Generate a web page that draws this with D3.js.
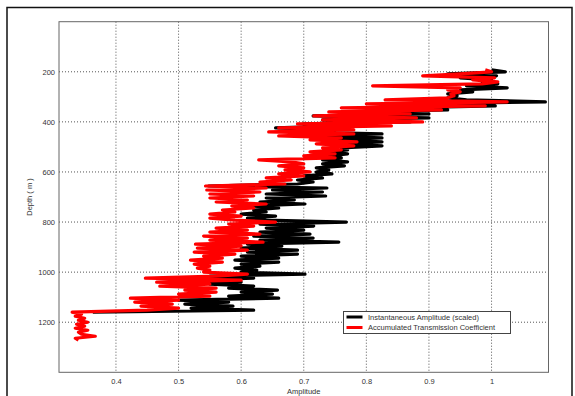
<!DOCTYPE html>
<html>
<head>
<meta charset="utf-8">
<script src="https://cdn.jsdelivr.net/npm/d3@7"></script>
<style>
  body { margin: 0; background: #fff; }
  text { font-family: "Liberation Sans", Arial, sans-serif; fill: #333; }
</style>
</head>
<body>
<script>
// depth sampling of the log (m)
const depthStart = 192;
const depthStep = 8;

// Accumulated Transmission Coefficient (red)
const transCoef = [
  0.99, 1.0, 0.95, 0.89, 1.005, 0.97, 1.01, 0.985, 0.81, 0.95,
  0.93, 0.95, 0.935, 0.94, 0.93, 0.83, 1.025, 0.80, 0.99, 0.76,
  0.92, 0.74, 0.87, 0.716, 0.88, 0.73, 0.89, 0.69, 0.84, 0.66,
  0.78, 0.644, 0.78, 0.66, 0.76, 0.71, 0.785, 0.72, 0.78, 0.73,
  0.76, 0.71, 0.75, 0.70, 0.75, 0.628, 0.68, 0.70, 0.66, 0.70,
  0.67, 0.71, 0.66, 0.70, 0.64, 0.68, 0.63, 0.67, 0.543, 0.64,
  0.545, 0.63, 0.55, 0.62, 0.55, 0.61, 0.56, 0.64, 0.585, 0.62,
  0.57, 0.59, 0.55, 0.60, 0.55, 0.59, 0.655, 0.58, 0.62, 0.56,
  0.61, 0.55, 0.63, 0.54, 0.61, 0.55, 0.635, 0.527, 0.60, 0.53,
  0.61, 0.525, 0.59, 0.54, 0.57, 0.519, 0.57, 0.525, 0.55, 0.53,
  0.55, 0.54, 0.61, 0.56, 0.447, 0.60, 0.465, 0.55, 0.47, 0.56,
  0.51, 0.56, 0.50, 0.55, 0.423, 0.50, 0.43, 0.49, 0.44, 0.50,
  0.45, 0.33, 0.345, 0.335, 0.35, 0.34, 0.355, 0.337, 0.35, 0.335,
  0.355, 0.34, 0.345, 0.367, 0.335, 0.34
];

// Instantaneous Amplitude (scaled) (black)
const instAmp = [
  1.0, 1.022, 0.93, 1.008, 0.95, 1.0, 0.985, 1.01, 0.96, 1.025,
  0.95, 0.97, 0.93, 0.945, 0.93, 0.96, 1.086, 0.88, 1.006, 0.85,
  0.93, 0.78, 0.90, 0.715, 0.90, 0.73, 0.87, 0.70, 0.76, 0.655,
  0.75, 0.68, 0.825, 0.72, 0.825, 0.75, 0.825, 0.76, 0.825, 0.76,
  0.77, 0.74, 0.77, 0.74, 0.76, 0.73, 0.77, 0.73, 0.765, 0.72,
  0.74, 0.72, 0.745, 0.70, 0.73, 0.69, 0.715, 0.69, 0.548, 0.737,
  0.65, 0.73, 0.64, 0.735, 0.64, 0.685, 0.63, 0.702, 0.62, 0.66,
  0.62, 0.64, 0.60, 0.655, 0.61, 0.64, 0.768, 0.63, 0.716, 0.64,
  0.70, 0.63, 0.71, 0.62, 0.715, 0.63, 0.756, 0.61, 0.665, 0.60,
  0.69, 0.61, 0.69, 0.60, 0.66, 0.59, 0.66, 0.60, 0.63, 0.59,
  0.625, 0.60, 0.702, 0.55, 0.62, 0.52, 0.60, 0.55, 0.62, 0.58,
  0.658, 0.60, 0.65, 0.58, 0.66, 0.50, 0.58, 0.51, 0.587, 0.52,
  0.62, 0.363
];

const xTicks = [0.4, 0.5, 0.6, 0.7, 0.8, 0.9, 1];
const yTicks = [200, 400, 600, 800, 1000, 1200];
const seriesNames = ["Instantaneous Amplitude (scaled)", "Accumulated Transmission Coefficient"];
const seriesColors = ["#000", "#f00"];

const width = 575, height = 396;
const plotL = 59, plotR = 548.5, plotT = 21.7, plotB = 372.3;

const x = d3.scaleLinear().domain([0.309, 1.091]).range([plotL, plotR]);
const y = d3.scaleLinear().domain([0, 1400]).range([plotT, plotB]);

const svg = d3.select("body").append("svg")
  .attr("width", width)
  .attr("height", height);

// outer figure frame
svg.append("rect")
  .attr("x", 7).attr("y", 7.5)
  .attr("width", 565).attr("height", 400)
  .attr("fill", "none")
  .attr("stroke", "#111")
  .attr("stroke-width", 1.5);

// grid
svg.append("g")
  .selectAll("line")
  .data(xTicks)
  .join("line")
  .attr("x1", d => x(d)).attr("x2", d => x(d))
  .attr("y1", plotT).attr("y2", plotB)
  .attr("stroke", "#555")
  .attr("stroke-dasharray", "1,2");

svg.append("g")
  .selectAll("line")
  .data(yTicks)
  .join("line")
  .attr("x1", plotL).attr("x2", plotR)
  .attr("y1", d => y(d)).attr("y2", d => y(d))
  .attr("stroke", "#555")
  .attr("stroke-dasharray", "1,2");

// axes labels
const xAxis = svg.append("g")
  .attr("transform", `translate(0,${plotB})`)
  .call(d3.axisBottom(x).tickValues(xTicks).tickSize(0).tickPadding(6).tickFormat(d => String(d)));
xAxis.select(".domain").remove();
xAxis.selectAll("text").attr("font-size", 7.5).attr("fill", "#333");

const yAxis = svg.append("g")
  .attr("transform", `translate(${plotL},0)`)
  .call(d3.axisLeft(y).tickValues(yTicks).tickSize(0).tickPadding(4).tickFormat(d3.format("d")));
yAxis.select(".domain").remove();
yAxis.selectAll("text").attr("font-size", 7.5).attr("fill", "#333");

svg.append("text")
  .attr("x", (plotL + plotR) / 2)
  .attr("y", 393.5)
  .attr("text-anchor", "middle")
  .attr("font-size", 7.5)
  .text("Amplitude");

svg.append("text")
  .attr("transform", `translate(32,${(plotT + plotB) / 2}) rotate(-90)`)
  .attr("text-anchor", "middle")
  .attr("font-size", 7.5)
  .text("Depth ( m )");

// traces
const line = d3.line()
  .x(d => x(d))
  .y((d, i) => y(depthStart + i * depthStep));

[instAmp, transCoef].forEach((vals, k) => {
  svg.append("path")
    .datum(vals)
    .attr("d", line)
    .attr("fill", "none")
    .attr("stroke", seriesColors[k])
    .attr("stroke-width", 3.2)
    .attr("stroke-linejoin", "round");
});

// plot box
svg.append("rect")
  .attr("x", plotL).attr("y", plotT)
  .attr("width", plotR - plotL).attr("height", plotB - plotT)
  .attr("fill", "none")
  .attr("stroke", "#666")
  .attr("stroke-width", 1);

// legend
const lg = svg.append("g").attr("transform", "translate(343.5,311.5)");
lg.append("rect")
  .attr("width", 167).attr("height", 22)
  .attr("fill", "#fff")
  .attr("stroke", "#444");

seriesNames.forEach((name, i) => {
  const ly = 5.5 + i * 10.5;
  lg.append("line")
    .attr("x1", 3).attr("x2", 19)
    .attr("y1", ly).attr("y2", ly)
    .attr("stroke", seriesColors[i])
    .attr("stroke-width", 3);
  lg.append("text")
    .attr("x", 24.5).attr("y", ly + 2.6)
    .attr("font-size", 7.5)
    .text(name);
});
</script>
</body>
</html>
